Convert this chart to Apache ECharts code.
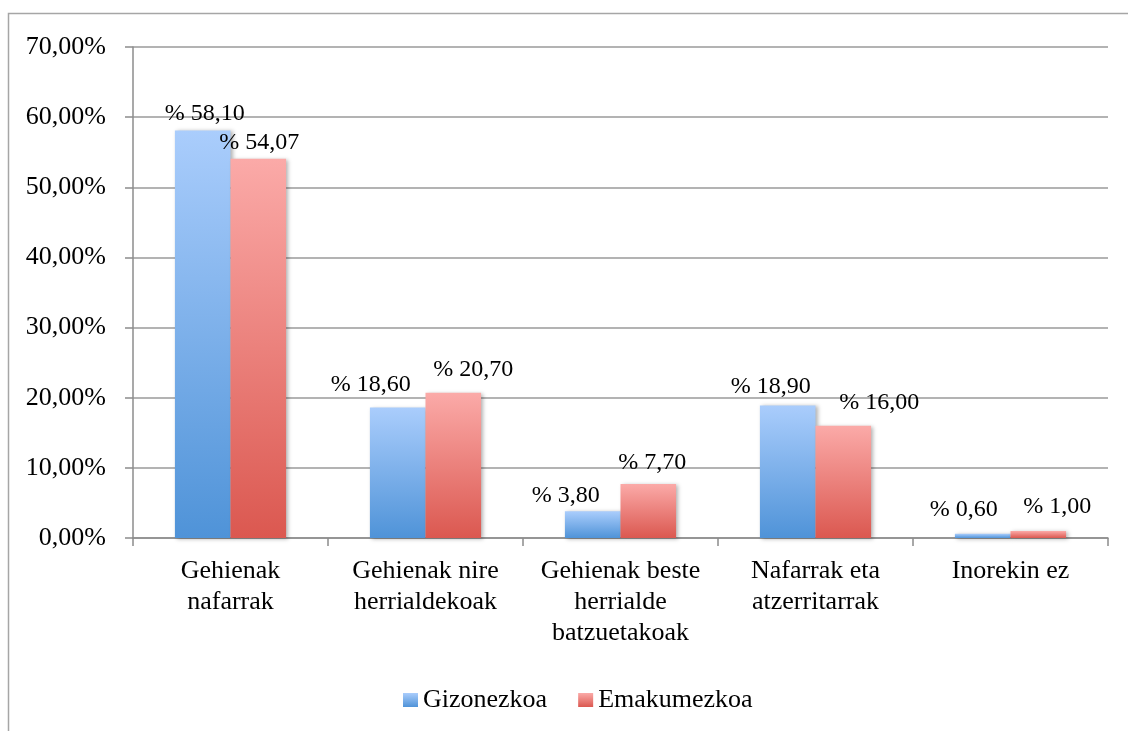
<!DOCTYPE html>
<html>
<head>
<meta charset="utf-8">
<script src="https://cdn.jsdelivr.net/npm/echarts@6/dist/echarts.min.js"></script>
<style>
  html, body { margin: 0; padding: 0; background: #fff; }
  #chart { width: 1128px; height: 731px; }
</style>
</head>
<body>
<div id="chart"></div>
<script>
// datuak
const categories = [
  'Gehienak\nnafarrak',
  'Gehienak nire\nherrialdekoak',
  'Gehienak beste\nherrialde\nbatzuetakoak',
  'Nafarrak eta\natzerritarrak',
  'Inorekin ez'
]
const seriesNames = ['Gizonezkoa', 'Emakumezkoa']
const gizonezkoa = [58.1, 18.6, 3.8, 18.9, 0.6]
const emakumezkoa = [54.07, 20.7, 7.7, 16.0, 1.0]

// etiketen mugimendua (Excel-ek gainjartzea saihesteko)
const gizonLabelShift = [[2, 0], [-27, -6], [-27, 1], [-17, -2], [-19, -7]]
const emakLabelShift = [[1, 1], [20, -6], [4, -4], [36, -6], [19, -7]]

const FONT = 'Liberation Serif'
const comma = (v) => v.toFixed(2).replace('.', ',')

const grad = (top, bottom) => new echarts.graphic.LinearGradient(0, 0, 0, 1, [
  { offset: 0, color: top },
  { offset: 1, color: bottom },
])

const buildData = (values, shifts) =>
  values.map((v, i) => ({ value: v, label: { offset: shifts[i] } }))

const chart = echarts.init(document.getElementById('chart'))

const barBase = {
  type: 'bar',
  barGap: '0%',
  barCategoryGap: '43%',
  label: {
    show: true,
    position: 'top',
    distance: 5,
    fontFamily: FONT,
    fontSize: 24,
    color: '#000',
    formatter: (p) => '% ' + comma(p.value),
  },
}

chart.setOption({
  animation: false,
  textStyle: { fontFamily: FONT },
  graphic: [{
    type: 'rect',
    shape: { x: 8.5, y: 13.5, width: 1300, height: 900 },
    style: { fill: 'none', stroke: '#a6a6a6', lineWidth: 1.5 },
    z: 0,
  }],
  grid: { left: 133, top: 47, right: 20, bottom: 193, containLabel: false },
  legend: {
    left: 398,
    top: 682,
    icon: 'rect',
    itemWidth: 15,
    itemHeight: 14,
    itemGap: 31,
    textStyle: { fontFamily: FONT, fontSize: 26, color: '#000' },
    data: seriesNames,
  },
  xAxis: {
    type: 'category',
    data: categories,
    axisLine: { show: true, lineStyle: { color: '#8c8c8c', width: 1.5 } },
    axisTick: { show: true, length: 8, lineStyle: { color: '#8c8c8c', width: 1.5 } },
    axisLabel: {
      interval: 0,
      margin: 18,
      fontFamily: FONT,
      fontSize: 26,
      lineHeight: 31,
      color: '#000',
    },
  },
  yAxis: {
    type: 'value',
    min: 0,
    max: 70,
    interval: 10,
    axisLine: { show: true, lineStyle: { color: '#8c8c8c', width: 1.5 } },
    axisTick: { show: true, length: 8, lineStyle: { color: '#8c8c8c', width: 1.5 } },
    splitLine: { show: true, lineStyle: { color: '#9a9a9a', width: 1.5 } },
    axisLabel: {
      margin: 27,
      fontFamily: FONT,
      fontSize: 26,
      color: '#000',
      formatter: (v) => comma(v) + '%',
    },
  },
  series: [
    {
      ...barBase,
      name: seriesNames[0],
      itemStyle: {
        color: grad('#aacdfc', '#4f93d8'),
        shadowBlur: 4,
        shadowOffsetX: 2,
        shadowOffsetY: 1,
        shadowColor: 'rgba(0,0,0,0.3)',
      },
      data: buildData(gizonezkoa, gizonLabelShift),
    },
    {
      ...barBase,
      name: seriesNames[1],
      itemStyle: {
        color: grad('#fbaaa8', '#db5850'),
        shadowBlur: 4,
        shadowOffsetX: 2,
        shadowOffsetY: 1,
        shadowColor: 'rgba(0,0,0,0.3)',
      },
      data: buildData(emakumezkoa, emakLabelShift),
    },
  ],
})
</script>
</body>
</html>
